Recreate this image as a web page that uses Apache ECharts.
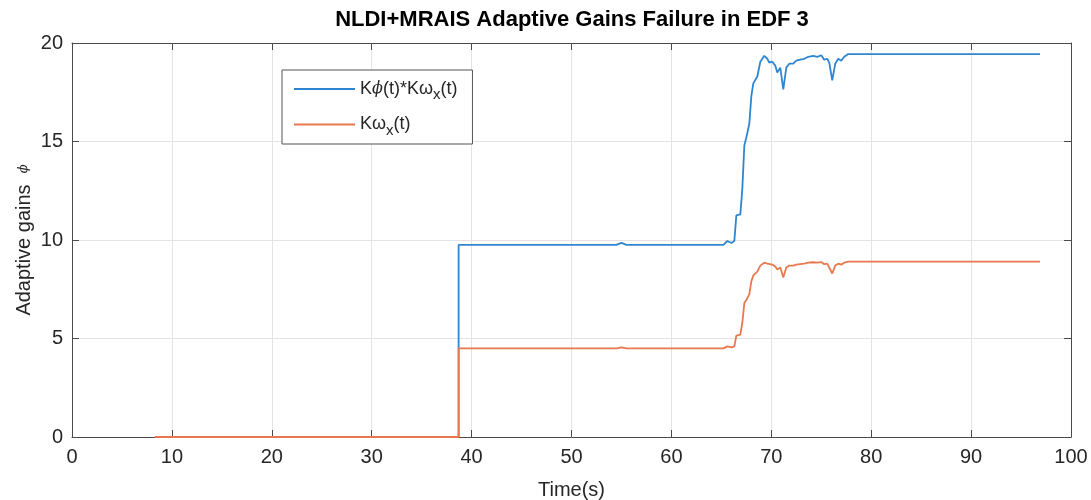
<!DOCTYPE html>
<html>
<head>
<meta charset="utf-8">
<script src="https://cdn.jsdelivr.net/npm/echarts@6/dist/echarts.min.js"></script>
<style>
  html, body { margin: 0; padding: 0; background: #fff; }
  #chart { width: 1091px; height: 500px; }
</style>
</head>
<body>
<div id="chart"></div>
<script>
// Sample times (s); the repeated time marks the step at failure onset
const timeS = [8.3, 38.7, 38.7, 54.5, 55.0, 55.5, 65.2, 65.6, 66.0, 66.3, 66.5, 66.9, 67.1, 67.3,
  67.5, 67.8, 68.0, 68.2, 68.6, 68.9, 69.3, 69.6, 69.8, 70.1, 70.4, 70.6, 70.9, 71.2, 71.5, 71.8,
  72.2, 72.5, 72.9, 73.3, 73.7, 74.2, 74.6, 75.0, 75.3, 75.6, 75.8, 76.1, 76.4, 76.7, 77.0, 77.3,
  77.7, 96.9];

// K_phi(t) * K_omega_x(t)
const gainProduct = [0, 0, 9.75, 9.75, 9.85, 9.75, 9.75, 9.95, 9.85, 9.95, 11.25, 11.3, 12.6, 14.8,
  15.2, 15.9, 17.3, 17.95, 18.3, 19.05, 19.35, 19.2, 19.0, 19.05, 18.85, 18.5, 18.75, 17.65, 18.75, 18.95,
  18.95, 19.1, 19.16, 19.2, 19.3, 19.35, 19.3, 19.38, 19.15, 19.2, 19.0, 18.1, 18.95, 19.2, 19.1, 19.3,
  19.44, 19.44];

// K_omega_x(t)
const gainOmega = [0, 0, 4.5, 4.5, 4.55, 4.5, 4.5, 4.6, 4.55, 4.6, 5.15, 5.2, 5.8, 6.8,
  6.95, 7.25, 7.9, 8.2, 8.4, 8.7, 8.85, 8.8, 8.7, 8.75, 8.65, 8.5, 8.6, 8.1, 8.6, 8.7,
  8.7, 8.75, 8.78, 8.8, 8.85, 8.87, 8.85, 8.88, 8.77, 8.8, 8.7, 8.3, 8.7, 8.8, 8.75, 8.85,
  8.9, 8.9];

const xTicks = [0, 10, 20, 30, 40, 50, 60, 70, 80, 90, 100];
const yTicks = [0, 5, 10, 15, 20];

const seriesNames = ['Kphi*Kwx', 'Kwx'];
const seriesColors = ['#2f86d0', '#e8784d'];

const toPairs = (ys) => timeS.map((t, i) => [t, ys[i]]);

const axisColor = '#4a4a4a';
const textColor = '#262626';
const font = 'Liberation Sans, Arial, sans-serif';

const chart = echarts.init(document.getElementById('chart'), null, { renderer: 'canvas' });

const baseX = {
  type: 'value', min: xTicks[0], max: xTicks[xTicks.length - 1], interval: 10,
  axisLine: { onZero: false, lineStyle: { color: axisColor, width: 1 } },
  axisTick: { inside: true, length: 7, lineStyle: { color: axisColor } }
};
const baseY = {
  type: 'value', min: yTicks[0], max: yTicks[yTicks.length - 1], interval: 5,
  axisLine: { onZero: false, lineStyle: { color: axisColor, width: 1 } },
  axisTick: { inside: true, length: 7, lineStyle: { color: axisColor } }
};

chart.setOption({
  animation: false,
  backgroundColor: '#ffffff',
  title: {
    text: 'NLDI+MRAIS Adaptive Gains Failure in EDF 3',
    left: 567, top: 4, textAlign: 'center',
    textStyle: { fontFamily: font, fontSize: 22, fontWeight: 'bold', color: '#000' }
  },
  grid: { left: 72, right: 20, top: 43, bottom: 63, outerBoundsMode: 'none', containLabel: false },
  legend: {
    orient: 'vertical', left: 282, top: 70,
    backgroundColor: '#fff', borderColor: '#555', borderWidth: 1,
    padding: [10, 15, 6, 12], itemGap: 13, itemWidth: 61, itemHeight: 2,
    icon: 'rect',
    data: seriesNames,
    formatter: (name) => name === 'Kphi*Kwx'
      ? '{t|K}{p|ϕ}{t|(t)*Kω}{s|x}{t|(t)}'
      : '{t|Kω}{s|x}{t|(t)}',
    textStyle: {
      rich: {
        t: { fontFamily: font, fontSize: 18, color: textColor, height: 24 },
        p: { fontFamily: 'DejaVu Serif, serif', fontStyle: 'italic', fontSize: 16, color: textColor, height: 24 },
        s: { fontFamily: font, fontSize: 15, color: textColor, height: 24, verticalAlign: 'bottom', padding: [12, 0, 0, 0] }
      }
    }
  },
  xAxis: [
    Object.assign({}, baseX, {
      position: 'bottom',
      name: 'Time(s)', nameLocation: 'middle', nameGap: 43,
      nameTextStyle: { fontFamily: font, fontSize: 20, color: textColor },
      axisLabel: { margin: 10, fontFamily: font, fontSize: 20, color: textColor },
      splitLine: { show: true, lineStyle: { color: '#e3e3e3', width: 1 } }
    }),
    Object.assign({}, baseX, {
      position: 'top', axisLabel: { show: false }, splitLine: { show: false }
    })
  ],
  yAxis: [
    Object.assign({}, baseY, {
      position: 'left',
      name: '{t|Adaptive gains  }{p|ϕ}', nameLocation: 'middle', nameGap: 38,
      nameMoveOverlap: false,
      nameTextStyle: {
        rich: {
          t: { fontFamily: font, fontSize: 20, color: textColor },
          p: { fontFamily: 'DejaVu Serif, serif', fontStyle: 'italic', fontSize: 13, color: textColor }
        }
      },
      axisLabel: { margin: 9, fontFamily: font, fontSize: 20, color: textColor },
      splitLine: { show: true, lineStyle: { color: '#e3e3e3', width: 1 } }
    }),
    Object.assign({}, baseY, {
      position: 'right', axisLabel: { show: false }, splitLine: { show: false }
    })
  ],
  series: [
    {
      name: seriesNames[0], type: 'line', xAxisIndex: 0, yAxisIndex: 0,
      data: toPairs(gainProduct), symbol: 'none', showSymbol: false,
      lineStyle: { color: seriesColors[0], width: 1.8 }, itemStyle: { color: seriesColors[0] }
    },
    {
      name: seriesNames[1], type: 'line', xAxisIndex: 0, yAxisIndex: 0,
      data: toPairs(gainOmega), symbol: 'none', showSymbol: false,
      lineStyle: { color: seriesColors[1], width: 1.8 }, itemStyle: { color: seriesColors[1] }
    }
  ]
});
</script>
</body>
</html>
